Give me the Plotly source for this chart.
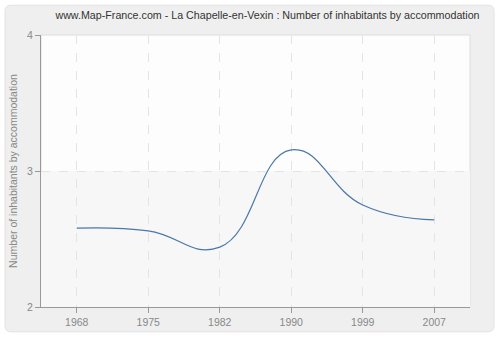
import plotly.graph_objects as go

years = ["1968", "1975", "1982", "1990", "1999", "2007"]
inhabitants = [2.58, 2.56, 2.44, 3.155, 2.75, 2.64]
y_ticks = [2, 3, 4]

fig = go.Figure()

fig.add_trace(go.Scatter(
    x=years, y=inhabitants,
    mode="lines",
    line=dict(color="#4a78a8", width=1.2, shape="spline", smoothing=1.3),
    hoverinfo="x+y",
    showlegend=False,
))

# geometry of the canvas, used to place the rounded outer frame
W, H = 500, 340
ml, mr, mt, mb = 41, 30, 35, 31
pw, ph = W - ml - mr, H - mt - mb


def px_to_paper_x(px):
    return (px - ml) / pw


def px_to_paper_y(py):
    return (H - mb - py) / ph


x0, x1, y0, y1, r = 5, 494, 5, 334, 6
path = (
    f"M {px_to_paper_x(x0 + r)},{px_to_paper_y(y0)} "
    f"L {px_to_paper_x(x1 - r)},{px_to_paper_y(y0)} "
    f"Q {px_to_paper_x(x1)},{px_to_paper_y(y0)} {px_to_paper_x(x1)},{px_to_paper_y(y0 + r)} "
    f"L {px_to_paper_x(x1)},{px_to_paper_y(y1 - r)} "
    f"Q {px_to_paper_x(x1)},{px_to_paper_y(y1)} {px_to_paper_x(x1 - r)},{px_to_paper_y(y1)} "
    f"L {px_to_paper_x(x0 + r)},{px_to_paper_y(y1)} "
    f"Q {px_to_paper_x(x0)},{px_to_paper_y(y1)} {px_to_paper_x(x0)},{px_to_paper_y(y1 - r)} "
    f"L {px_to_paper_x(x0)},{px_to_paper_y(y0 + r)} "
    f"Q {px_to_paper_x(x0)},{px_to_paper_y(y0)} {px_to_paper_x(x0 + r)},{px_to_paper_y(y0)} Z"
)

shapes = [
    dict(type="path", path=path, xref="paper", yref="paper", layer="below",
         fillcolor="#efefef", line=dict(color="#e2e2e2", width=1)),
    # plot area background
    dict(type="rect", xref="paper", yref="paper", x0=0, x1=1, y0=0, y1=1,
         layer="below", fillcolor="#fdfdfd", line=dict(color="#dddddd", width=1)),
    # lower band of the plot area is slightly greyer
    dict(type="rect", xref="paper", yref="y", x0=0, x1=1, y0=2, y1=3,
         layer="below", fillcolor="#f7f7f7", line=dict(width=0)),
]

tick_font = dict(family="Liberation Sans", size=10.5, color="#888888")

fig.update_layout(
    width=W, height=H,
    margin=dict(l=ml, r=mr, t=mt, b=mb, pad=0),
    paper_bgcolor="white",
    plot_bgcolor="rgba(0,0,0,0)",
    title=dict(
        text="www.Map-France.com - La Chapelle-en-Vexin : Number of inhabitants by accommodation",
        x=0.535, xanchor="center", y=0.955, yanchor="middle",
        font=dict(family="Liberation Sans", size=10.7, color="#333333"),
    ),
    shapes=shapes,
    xaxis=dict(
        type="category",
        range=[-0.5, 5.5],
        showline=True, linecolor="#999999", linewidth=1,
        ticks="outside", ticklen=5, tickcolor="#999999",
        showgrid=True, gridcolor="#e4e4e4", griddash="dash", gridwidth=1,
        tickfont=tick_font,
        zeroline=False, fixedrange=True,
    ),
    yaxis=dict(
        range=[2, 4],
        tickvals=y_ticks,
        showline=True, linecolor="#999999", linewidth=1,
        ticks="outside", ticklen=5, tickcolor="#999999",
        showgrid=True, gridcolor="#e4e4e4", griddash="dash", gridwidth=1,
        tickfont=tick_font,
        title=dict(text="Number of inhabitants by accommodation",
                   font=dict(family="Liberation Sans", size=10.5, color="#888888"),
                   standoff=7),
        automargin=False,
        zeroline=False, fixedrange=True,
    ),
)

fig.write_html("out.html")
